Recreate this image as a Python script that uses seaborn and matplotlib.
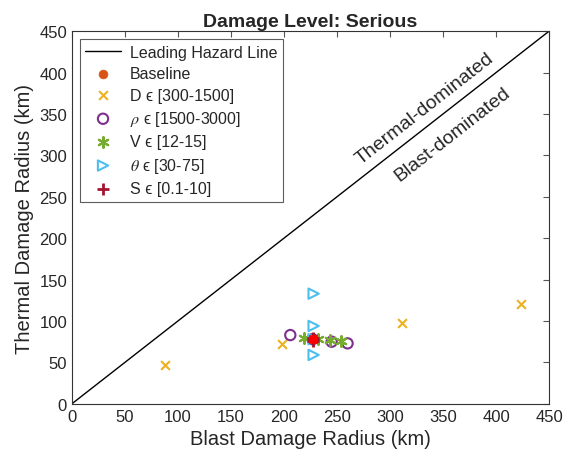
import numpy as np
import pandas as pd
import matplotlib
matplotlib.use("Agg")
import matplotlib.pyplot as plt
import seaborn as sns

sns.set_style("white")
plt.rcParams['font.family'] = ['Liberation Sans', 'DejaVu Sans']
plt.rcParams['mathtext.fontset'] = 'stix'

# data (km)
base_x = [227]
base_y = [78]
D_x = [88, 198, 311, 424]
D_y = [47, 72, 97, 121]
rho_x = [206, 227, 245, 260]
rho_y = [83, 78, 75, 73]
V_x = [219, 232, 243, 254]
V_y = [79, 78, 77, 76]
th_x = [228, 228, 228, 228]
th_y = [133, 94, 78, 59]
S_x = [227, 227, 227]
S_y = [76, 78, 80]

line_x = [0, 450]
line_y = [0, 450]

EPS = '\u03f5'

fig = plt.figure(figsize=(5.66, 4.6), dpi=100)
ax = fig.add_axes([0.127, 0.12, 0.843, 0.81])

sns.lineplot(x=line_x, y=line_y, color='black', linewidth=1.0, ax=ax,
             label='Leading Hazard Line')
sns.scatterplot(x=base_x, y=base_y, color='#D95319', marker='o', s=40,
                edgecolor='#D95319', ax=ax, label='Baseline', zorder=3)
sns.scatterplot(x=D_x, y=D_y, color='#EDB120', marker='x', s=40,
                linewidth=1.5, ax=ax, label='D ' + EPS + ' [300-1500]', zorder=3)
sns.scatterplot(x=rho_x, y=rho_y, marker='o', s=55, facecolor='none',
                edgecolor='#7E2F8E', linewidth=1.5, ax=ax,
                label=r'$\rho$ ' + EPS + ' [1500-3000]', zorder=3)
sns.scatterplot(x=V_x, y=V_y, color='#77AC30', marker=(6, 2, 0), s=60,
                linewidth=1.5, ax=ax, label='V ' + EPS + ' [12-15]', zorder=3)
sns.scatterplot(x=th_x, y=th_y, marker='>', s=55, facecolor='none',
                edgecolor='#4DBEEE', linewidth=1.5, ax=ax,
                label=r'$\theta$ ' + EPS + ' [30-75]', zorder=3)
sns.scatterplot(x=S_x, y=S_y, color='#A2142F', marker='+', s=80,
                linewidth=2, ax=ax, label='S ' + EPS + ' [0.1-10]', zorder=4)
sns.scatterplot(x=base_x, y=base_y, color='#FF0000', marker='s', s=30,
                edgecolor='#FF0000', ax=ax, zorder=5, legend=False)

ax.set_xlim(0, 450)
ax.set_ylim(0, 450)
ax.set_xticks(np.arange(0, 451, 50))
ax.set_yticks(np.arange(0, 451, 50))
ax.tick_params(direction='in', length=4, labelsize=12, color='#555555',
               top=True, right=True, labeltop=False, labelright=False)
for sp in ax.spines.values():
    sp.set_color('#333333')
    sp.set_linewidth(0.8)

ax.set_xlabel('Blast Damage Radius (km)', fontsize=14.5)
ax.set_ylabel('Thermal Damage Radius (km)', fontsize=14.5)
ax.set_title('Damage Level: Serious', fontsize=14, fontweight='bold', pad=4)

ax.text(333, 357, 'Thermal-dominated', fontsize=14, rotation=38,
        ha='center', va='center', rotation_mode='anchor')
ax.text(359, 326, 'Blast-dominated', fontsize=14, rotation=38,
        ha='center', va='center', rotation_mode='anchor')

leg = ax.legend(loc='upper left', fontsize=11.5, frameon=True, fancybox=False,
                edgecolor='#333333', borderpad=0.35, labelspacing=0.4,
                handlelength=2.2, handletextpad=0.6, borderaxespad=0.5)
leg.get_frame().set_linewidth(0.8)

fig.savefig('out.png', dpi=100)
